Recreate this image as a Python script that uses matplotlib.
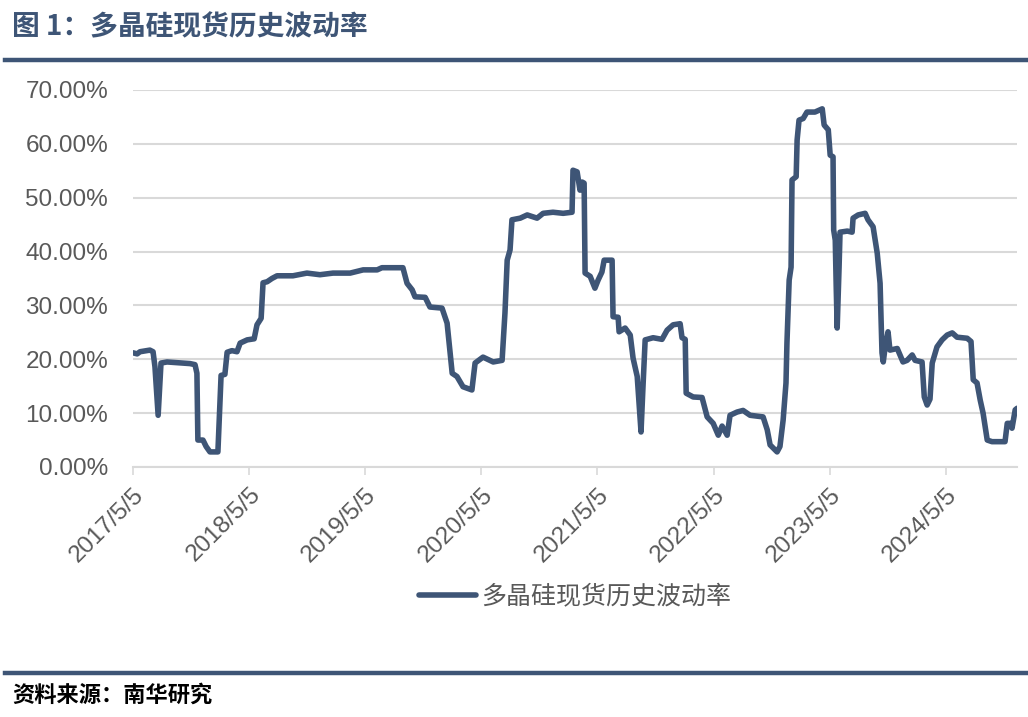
import numpy as np
import pandas as pd
import matplotlib
matplotlib.use("Agg")
import matplotlib.pyplot as plt
from matplotlib.ticker import FuncFormatter

plt.rcParams['font.family'] = ['Liberation Sans', 'Noto Sans CJK SC', 'DejaVu Sans']

# spot historical volatility of polysilicon
dates = ["2017-05-05", "2017-05-18", "2017-05-27", "2017-06-27", "2017-07-07", "2017-07-13",
         "2017-07-23", "2017-08-01", "2017-08-20", "2017-10-31", "2017-11-16", "2017-11-22",
         "2017-11-25", "2017-12-11", "2017-12-21", "2018-01-02", "2018-01-27", "2018-02-06",
         "2018-02-18", "2018-02-25", "2018-03-12", "2018-03-28", "2018-04-07", "2018-04-29",
         "2018-05-21", "2018-05-30", "2018-06-12", "2018-06-18", "2018-07-01", "2018-07-16",
         "2018-08-01", "2018-09-20", "2018-11-03", "2018-12-14", "2019-01-24", "2019-03-19",
         "2019-04-29", "2019-06-12", "2019-06-27", "2019-09-01", "2019-09-14", "2019-09-30",
         "2019-10-09", "2019-11-10", "2019-11-25", "2020-01-02", "2020-01-18", "2020-02-03",
         "2020-02-18", "2020-03-08", "2020-04-05", "2020-04-15", "2020-05-10", "2020-06-11",
         "2020-07-09", "2020-07-18", "2020-07-25", "2020-08-03", "2020-08-09", "2020-09-04",
         "2020-09-26", "2020-10-27", "2020-11-15", "2020-12-16", "2021-01-17", "2021-02-14",
         "2021-02-17", "2021-03-02", "2021-03-11", "2021-03-18", "2021-03-24", "2021-03-27",
         "2021-04-12", "2021-04-27", "2021-05-07", "2021-05-19", "2021-05-26", "2021-06-20",
         "2021-06-23", "2021-07-09", "2021-07-12", "2021-07-31", "2021-08-16", "2021-08-25",
         "2021-09-07", "2021-09-19", "2021-09-25", "2021-10-02", "2021-10-27", "2021-11-24",
         "2021-12-10", "2021-12-29", "2022-01-20", "2022-01-26", "2022-02-05", "2022-02-08",
         "2022-03-02", "2022-03-30", "2022-04-15", "2022-05-04", "2022-05-20", "2022-06-01",
         "2022-06-17", "2022-06-26", "2022-07-18", "2022-08-06", "2022-08-28", "2022-10-08",
         "2022-10-21", "2022-10-30", "2022-11-21", "2022-11-30", "2022-12-10", "2022-12-19",
         "2022-12-22", "2022-12-29", "2023-01-04", "2023-01-07", "2023-01-20", "2023-01-23",
         "2023-01-29", "2023-02-11", "2023-02-23", "2023-03-20", "2023-04-12", "2023-04-18",
         "2023-05-01", "2023-05-07", "2023-05-16", "2023-05-18", "2023-05-23", "2023-05-26",
         "2023-05-29", "2023-06-04", "2023-06-07", "2023-06-30", "2023-07-15", "2023-07-18",
         "2023-08-03", "2023-08-25", "2023-09-03", "2023-09-19", "2023-10-02", "2023-10-11",
         "2023-10-17", "2023-10-21", "2023-10-27", "2023-11-05", "2023-11-11", "2023-12-04",
         "2023-12-22", "2024-01-04", "2024-01-20", "2024-01-29", "2024-02-20", "2024-02-27",
         "2024-03-07", "2024-03-16", "2024-03-23", "2024-04-07", "2024-04-23", "2024-05-09",
         "2024-05-25", "2024-06-09", "2024-07-11", "2024-07-23", "2024-07-30", "2024-08-11",
         "2024-08-21", "2024-08-30", "2024-09-12", "2024-09-27", "2024-11-07", "2024-11-14",
         "2024-11-23", "2024-11-29", "2024-12-09", "2024-12-15"]

vol = [21.2, 21.0, 21.4, 21.7, 21.4, 18.6, 9.6, 19.3, 19.5, 19.2, 19.0, 17.4,
       5.0, 5.0, 3.8, 2.8, 2.8, 17.0, 17.2, 21.3, 21.6, 21.4, 23.0, 23.6,
       23.8, 26.4, 27.6, 34.2, 34.4, 35.0, 35.5, 35.5, 36.0, 35.7, 36.0, 36.0,
       36.6, 36.6, 37.0, 37.0, 34.1, 32.9, 31.6, 31.5, 29.7, 29.5, 26.7, 17.4,
       16.8, 14.9, 14.3, 19.3, 20.4, 19.5, 19.8, 28.6, 38.4, 40.3, 45.9, 46.2,
       46.8, 46.2, 47.1, 47.3, 47.1, 47.3, 55.1, 54.8, 51.4, 52.9, 52.7, 36.0,
       35.4, 33.2, 34.7, 36.2, 38.4, 38.4, 27.9, 27.8, 25.1, 25.8, 24.5, 20.2,
       16.8, 6.5, 14.7, 23.6, 24.0, 23.7, 25.4, 26.4, 26.6, 24.0, 23.7, 13.7,
       13.0, 12.9, 9.3, 8.1, 5.9, 7.6, 5.9, 9.6, 10.2, 10.5, 9.6, 9.3,
       6.9, 4.1, 2.8, 3.8, 8.7, 15.6, 23.0, 34.7, 37.1, 53.3, 53.9, 60.7,
       64.4, 64.7, 65.9, 65.9, 66.5, 63.5, 62.6, 57.9, 57.6, 44.0, 42.1, 33.4,
       25.8, 37.1, 43.6, 43.8, 43.6, 46.2, 46.8, 47.1, 45.9, 44.6, 39.7, 34.1,
       21.2, 19.5, 22.3, 25.1, 21.7, 22.0, 19.5, 19.8, 20.8, 19.8, 19.5, 13.0,
       11.5, 12.6, 19.3, 22.3, 23.6, 24.5, 24.9, 24.1, 23.9, 23.3, 16.2, 15.6,
       12.4, 10.0, 5.0, 4.7, 4.7, 8.1, 8.1, 7.2, 10.6, 10.9]

tick_dates = ["2017-05-05", "2018-05-05", "2019-05-05", "2020-05-05",
              "2021-05-05", "2022-05-05", "2023-05-05", "2024-05-05"]
tick_labels = ["2017/5/5", "2018/5/5", "2019/5/5", "2020/5/5",
               "2021/5/5", "2022/5/5", "2023/5/5", "2024/5/5"]

series_name = "多晶硅现货历史波动率"
title = "图 1：多晶硅现货历史波动率"
source = "资料来源：南华研究"

navy = "#3E5576"
grey_txt = "#595959"
grid_c = "#D9D9D9"

x = pd.to_datetime(dates)
y = np.array(vol) / 100

fig = plt.figure(figsize=(10.28, 7.17), dpi=100)
ax = fig.add_axes([0.1294, 0.3487, 0.8600, 0.5258])

ax.plot(x, y, color=navy, lw=4.0, solid_joinstyle='round', solid_capstyle='round',
        label=series_name)

ax.set_ylim(0, 0.70)
ax.set_yticks(np.arange(0, 0.701, 0.10))
ax.yaxis.set_major_formatter(FuncFormatter(lambda v, p: "%.2f%%" % (v * 100)))
ax.set_xlim(pd.Timestamp("2017-05-05"), x[-1])
ax.set_xticks(pd.to_datetime(tick_dates))
ax.set_xticklabels(tick_labels, rotation=45, ha='right', rotation_mode='anchor')

ax.grid(axis='y', color=grid_c, lw=1.5)
ax.set_axisbelow(True)
for s in ['top', 'right', 'left']:
    ax.spines[s].set_visible(False)
ax.spines['bottom'].set_color(grid_c)
ax.spines['bottom'].set_linewidth(1.5)
ax.tick_params(axis='y', length=0, labelsize=17.5, labelcolor=grey_txt, pad=18)
ax.tick_params(axis='x', length=6, width=1.2, color=grid_c, labelsize=17.5,
               labelcolor=grey_txt, pad=6)

leg = ax.legend(loc='center', bbox_to_anchor=(0.5, -0.345), frameon=False,
                fontsize=18, handlelength=2.3, handletextpad=0.2)
for t in leg.get_texts():
    t.set_color(grey_txt)

# header / footer
fig.text(0.012, 0.962, title, fontsize=20, fontweight='bold', color=navy,
         family=['Noto Sans CJK SC', 'DejaVu Sans'], va='center')
fig.add_artist(plt.Line2D([0.005, 1.0], [0.917, 0.917], color=navy, lw=3.2))
fig.add_artist(plt.Line2D([0.005, 1.0], [0.062, 0.062], color=navy, lw=3.2))
fig.text(0.012, 0.030, source, fontsize=16, fontweight='bold', color='black',
         family=['Noto Sans CJK SC', 'DejaVu Sans'], va='center')

fig.savefig("out.png", dpi=100)
